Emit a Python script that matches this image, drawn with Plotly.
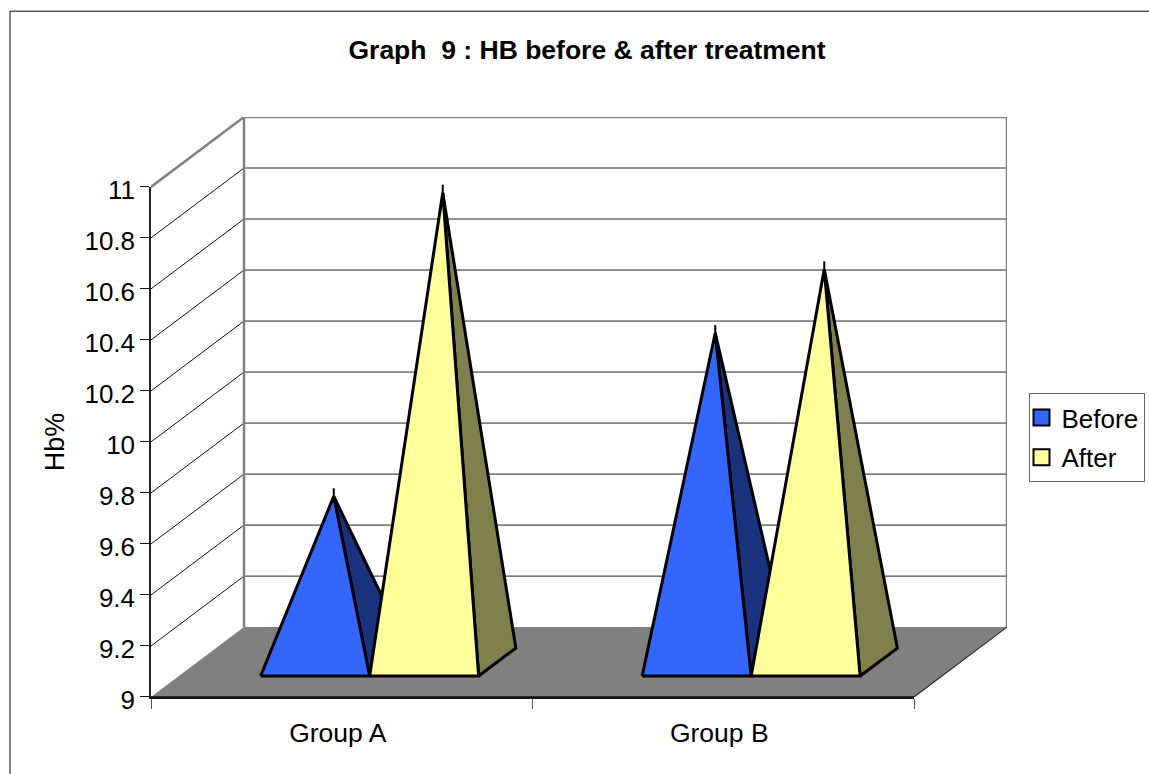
import plotly.graph_objects as go

categories = ["Group A", "Group B"]
before = [9.65, 10.29]
after = [10.84, 10.54]
y_ticks = [9, 9.2, 9.4, 9.6, 9.8, 10, 10.2, 10.4, 10.6, 10.8, 11]

PX_X = 381.5   # px per category
PX_Y = 255.5   # px per value unit
DEPTH_X = 93 / PX_X
DEPTH_Y = 70 / PX_Y
GAP = 0.75 / 3.5
BAR = 1 / 3.5
D0, D1 = 0.3, 0.7
FONT = "Liberation Sans, Arial, sans-serif"
FRONT_W = PX_X * len(categories)
FRONT_H = PX_Y * (y_ticks[-1] - y_ticks[0])
FULL_W = FRONT_W + 93
FULL_H = FRONT_H + 70

def proj(x, y, d=0.0):
    return x + d * DEPTH_X, y + d * DEPTH_Y

def poly(points, fill, line=None, width=0):
    xs, ys = zip(*(points + [points[0]]))
    return go.Scatter(x=xs, y=ys, xaxis="x2", yaxis="y2", mode="lines", fill="toself", fillcolor=fill,
                      line=dict(color=line or fill, width=width if line else 0),
                      showlegend=False, hoverinfo="skip")

def seg(a, b, color, width):
    return go.Scatter(x=[a[0], b[0]], y=[a[1], b[1]], xaxis="x2", yaxis="y2", mode="lines",
                      line=dict(color=color, width=width),
                      showlegend=False, hoverinfo="skip", cliponaxis=False)

fig = go.Figure()
X0, X1, Y0, Y1 = 0, len(categories), y_ticks[0], y_ticks[-1]

# legend entries sit on the front axes so that those axes are drawn
for name, col in (("Before", "#3366FF"), ("After", "#FFFF99")):
    fig.add_trace(go.Scatter(x=[None], y=[None], mode="markers", name=name, legendgroup=name,
                             marker=dict(symbol="square", size=16, color=col,
                                         line=dict(color="#000000", width=2))))

# floor
fig.add_trace(poly([proj(X0, Y0), proj(X1, Y0), proj(X1, Y0, 1), proj(X0, Y0, 1)], "#808080"))
# grid lines
for v in y_ticks[1:-1]:
    fig.add_trace(seg(proj(X0, v), proj(X0, v, 1), "#111111", 1))
    fig.add_trace(seg(proj(X0, v, 1), proj(X1, v, 1), "#222222", 1))
# walls
GR = "#808080"
fig.add_trace(seg(proj(X0, Y1), proj(X0, Y1, 1), GR, 2.5))
fig.add_trace(seg(proj(X0, Y1, 1), proj(X1, Y1, 1), GR, 2.5))
fig.add_trace(seg(proj(X0, Y0, 1), proj(X0, Y1, 1), GR, 2.5))
fig.add_trace(seg(proj(X1, Y0, 1), proj(X1, Y1, 1), GR, 2.5))
fig.add_trace(seg(proj(X1, Y0), proj(X1, Y0, 1), "#222222", 1.2))
fig.add_trace(seg(proj(X0, Y0), proj(X1, Y0), "#111111", 1.5))

def pyramid(left, value, front, side):
    right = left + BAR
    fl, fr = proj(left, Y0, D0), proj(right, Y0, D0)
    br = proj(right, Y0, D1)
    apex = proj(left + BAR / 2, value, 0.5)
    tip = (apex[0], apex[1] + 8 / PX_Y)
    fig.add_trace(seg(apex, tip, "#000000", 2))
    fig.add_trace(poly([fr, br, apex], side, "#000000", 3))
    fig.add_trace(poly([fl, fr, apex], front, "#000000", 3))

for i in range(len(categories)):
    pyramid(i + GAP, before[i], "#3366FF", "#1A337F")
    pyramid(i + GAP + BAR, after[i], "#FFFF99", "#80804D")

L, T, R, B = 151, 116.5, 1149 - 151 - FULL_W, 774 - 116.5 - FULL_H

fig.update_layout(
    width=1149, height=774, autosize=False,
    margin=dict(l=L, r=R, t=T, b=B, autoexpand=False),
    paper_bgcolor="white", plot_bgcolor="rgba(0,0,0,0)",
    font=dict(family=FONT, size=26, color="#000000"),
    title=dict(text="<b>Graph\u00a0\u00a09 : HB before &amp; after treatment</b>",
               x=587 / 1149, y=1 - 50 / 774, xanchor="center", yanchor="middle",
               font=dict(size=26.5)),
    xaxis=dict(domain=[0, FRONT_W / FULL_W], range=[X0, X1],
               tickvals=[i + 0.5 for i in range(len(categories))],
               ticktext=categories, ticks="", ticklabelstandoff=11, ticklabelshift=-4,
               tickfont=dict(size=26.5), showgrid=False, zeroline=False,
               showline=True, linecolor="#111111", linewidth=1.5,
               minor=dict(tickmode="array", tickvals=list(range(len(categories) + 1)),
                          ticks="outside", ticklen=10, tickwidth=1, tickcolor="#555555", showgrid=False)),
    yaxis=dict(domain=[0, FRONT_H / FULL_H], range=[Y0, Y1], tickvals=y_ticks,
               ticktext=[f"{v:g}" for v in y_ticks], ticklabelshift=3,
               ticks="outside", ticklen=9, tickwidth=1.2, tickcolor="#111111",
               showgrid=False, zeroline=False, showline=True, linecolor="#222222", linewidth=1.5,
               title=dict(text="Hb%", standoff=12, font=dict(size=27))),
    xaxis2=dict(domain=[0, 1], range=[0, FULL_W / PX_X], visible=False, anchor="y2"),
    yaxis2=dict(domain=[0, 1], range=[Y0, Y0 + FULL_H / PX_Y], visible=False, anchor="x2"),
    legend=dict(x=(1028.5 - L) / FULL_W, y=1 - (393 - T) / FULL_H, xanchor="left", yanchor="top",
                bordercolor="#666666", borderwidth=1, bgcolor="white", tracegroupgap=3, indentation=-8,
                traceorder="grouped", font=dict(size=26), itemclick=False, itemdoubleclick=False),
    shapes=[dict(type="rect", xref="paper", yref="paper",
                 x0=(10 - L) / FULL_W, x1=(1170 - L) / FULL_W,
                 y0=1 - (800 - T) / FULL_H, y1=1 - (10.5 - T) / FULL_H,
                 line=dict(color="#000000", width=1), layer="below")],
)

fig.write_html("out.html", post_script="document.body.style.margin='0';",
               config=dict(displayModeBar=False))
